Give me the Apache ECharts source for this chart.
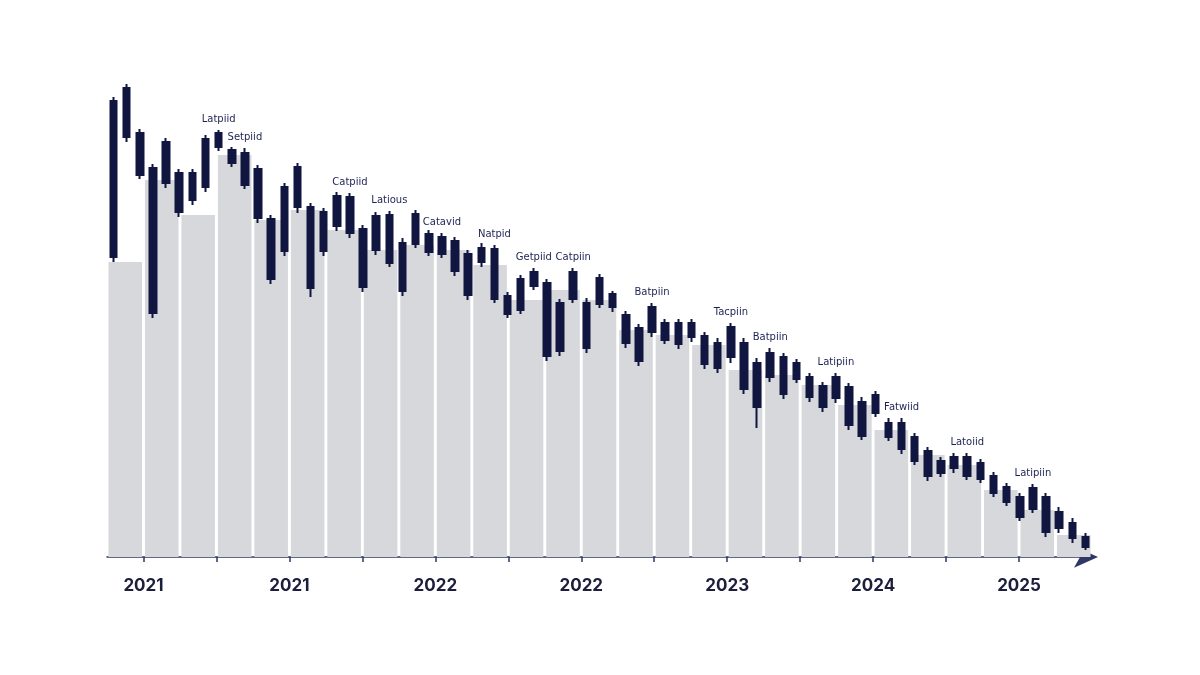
<!DOCTYPE html>
<html><head><meta charset="utf-8">
<script src="https://cdn.jsdelivr.net/npm/echarts@6/dist/echarts.min.js"></script>
<style>html,body{margin:0;background:#fff}#c{width:1200px;height:675px}</style>
</head><body><div id="c"></div>
<script>
// candle readings: [bodyLow, bodyHigh, low, high]
const candles = [
[300,456,295,460],[420,469,415,473],[382,424,378,428],[244,389,239,393],[374,415,369,419],
[345,384,340,388],[357,384,352,388],[370,418,365,422],[410,424,406,427],[394,407,390,410],
[372,404,368,409],[339,388,334,392],[278,338,273,342],[306,370,301,374],[350,390,344,394],
[269,350,260,354],[306,345,301,349],[331,361,326,365],[324,360,319,364],[270,328,265,332],
[307,341,302,345],[294,342,290,346],[266,314,261,319],[313,343,309,347],[305,323,301,327],
[303,320,299,324],[286,316,281,320],[262,303,257,307],[295,309,290,314],[258,308,254,312],
[243,261,239,265],[247,278,243,282],[271,285,267,289],[201,274,196,278],[206,254,201,258],
[258,285,254,289],[209,254,204,259],[253,279,249,283],[250,263,245,266],[214,242,209,246],
[196,229,191,233],[225,250,220,254],[217,234,213,238],[213,234,208,238],[220,234,215,238],
[193,221,188,225],[189,214,184,219],[200,230,194,234],[168,214,163,219],[150,194,129,199],
[180,204,175,209],[163,200,158,204],[178,194,174,198],[160,180,155,184],[150,171,145,175],
[159,180,154,184],[132,170,127,174],[121,155,117,160],[144,162,140,166],[120,134,116,139],
[108,134,103,139],[96,120,92,124],[81,106,76,110],[84,96,80,100],[89,100,84,104],
[81,100,77,104],[78,94,74,98],[64,81,60,85],[55,70,51,74],[40,60,36,64],
[48,69,44,73],[25,60,20,64],[29,45,24,50],[19,34,14,39],[10,20,7,24]
];
const bandTops = [295,377,342,402,337,347,327,307,312,307,292,257,267,257,227,222,212,187,182,172,152,127,102,92,67,47,22];
const yearLabels = ["2021","2021","2022","2022","2023","2024","2025"];
const yearPos = [1,5,9,13,17,21,25];
const tickPos = [1,3,5,7,9,11,13,15,17,19,21,23,25];
const notes = [
[9,"Latpiid"],[11,"Setpiid"],[19,"Catpiid"],[22,"Latious"],[26,"Catavid"],[30,"Natpid"],
[33,"Getpiid"],[36,"Catpiin"],[42,"Batpiin"],[48,"Tacpiin"],[51,"Batpiin"],[56,"Latipiin"],
[61,"Fatwiid"],[66,"Latoiid"],[71,"Latipiin"]
];
const navy = '#111641';
const chart = echarts.init(document.getElementById('c'));
const cats = candles.map((c,i)=>String(i+1));
chart.setOption({
  animation:false,
  grid:{left:107,right:108,top:57,bottom:118},
  xAxis:[
    {type:'category',data:cats,show:false,boundaryGap:true},
    {type:'category',data:bandTops.map((b,i)=>'b'+i),show:false,boundaryGap:true},
    {type:'value',min:0,max:bandTops.length,position:'bottom',
     splitLine:{show:false},
     axisLine:{show:true,lineStyle:{color:'#2f3668',width:1.5},symbol:['none','arrow'],symbolSize:[16,24],symbolOffset:[0,6]},
     axisTick:{show:true,customValues:tickPos,length:5,lineStyle:{color:'#2f3668',width:1.5}},
     axisLabel:{customValues:yearPos,margin:20,fontSize:17,fontWeight:'bold',color:'#1b1f3b',fontFamily:'Inter, Roboto, sans-serif',
       formatter:v=>yearLabels[yearPos.indexOf(Math.round(v))]||''}}
  ],
  yAxis:{type:'value',min:0,max:500,show:false},
  series:[
    {type:'bar',xAxisIndex:1,data:bandTops,barCategoryGap:'8%',itemStyle:{color:'#d6d8db'},silent:true},
    {type:'candlestick',xAxisIndex:0,barMaxWidth:7,barMinWidth:7,
     data:candles.map(c=>[c[0],c[1],c[2],c[3]]),
     itemStyle:{color:navy,color0:navy,borderColor:navy,borderColor0:navy,borderWidth:2},
     markPoint:{symbol:'circle',symbolSize:1,itemStyle:{color:'rgba(0,0,0,0)'},
       label:{show:true,position:'top',distance:5,formatter:'{b}',fontSize:10,color:'#1d2252',fontFamily:'DejaVu Sans, sans-serif'},
       data:notes.map(n=>({name:n[1],coord:[n[0]-1,candles[n[0]-1][3]]}))}
    }
  ]
});
</script></body></html>
